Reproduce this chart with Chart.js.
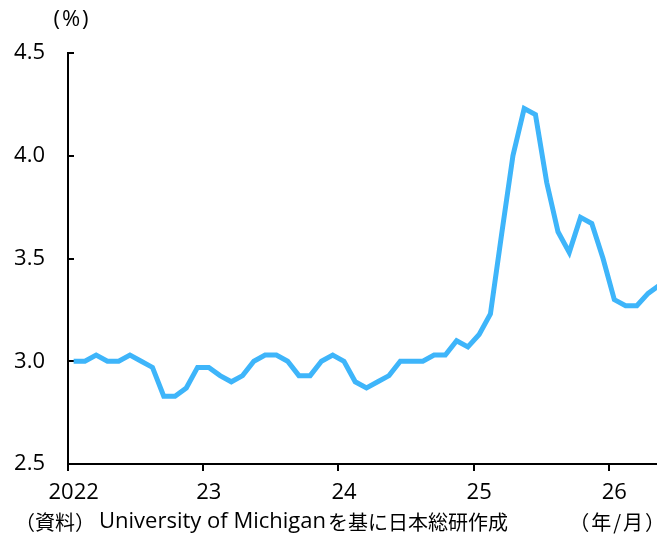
<!DOCTYPE html>
<html>
<head>
<meta charset="utf-8">
<script src="https://cdn.jsdelivr.net/npm/chart.js@4"></script>
<style>
  html, body { margin: 0; padding: 0; overflow: hidden; background: #fff; }
  #wrap { width: 657px; height: 534px; overflow: hidden; }
</style>
</head>
<body>
<div id="wrap"><canvas id="chart" width="680" height="534"></canvas></div>
<script>
// year tick labels (shown under each January)
var yearLabels = ["2022", "23", "24", "25", "26"];
var monthsLastYear = 5; // data runs to May 2026

// monthly values, %
var y2022 = [3.0, 3.0, 3.03, 3.0, 3.0, 3.03, 3.0, 2.97, 2.83, 2.83, 2.87, 2.97];
var y2023 = [2.97, 2.93, 2.9, 2.93, 3.0, 3.03, 3.03, 3.0, 2.93, 2.93, 3.0, 3.03];
var y2024 = [3.0, 2.9, 2.87, 2.9, 2.93, 3.0, 3.0, 3.0, 3.03, 3.03, 3.1, 3.07];
var y2025 = [3.13, 3.23, 3.62, 4.0, 4.23, 4.2, 3.87, 3.63, 3.53, 3.7, 3.67, 3.5];
var y2026 = [3.3, 3.27, 3.27, 3.33, 3.37];

var unitText = "(%)";
var sourceParts = ["（資料）", "University of Michigan", "を基に日本総研作成"];
var axisText = "（年/月）";

var values = y2022.concat(y2023, y2024, y2025, y2026);

// one category per month, label only on January
var labels = [];
for (var i = 0; i < yearLabels.length; i++) {
  var n = (i === yearLabels.length - 1) ? monthsLastYear : 12;
  for (var m = 1; m <= n; m++) {
    labels.push(m === 1 ? yearLabels[i] : "");
  }
}

var FONT = "'Open Sans', 'Noto Sans CJK JP', sans-serif";
var CJK = "'Noto Sans CJK JP', sans-serif";
Chart.defaults.font.family = FONT;
Chart.defaults.color = "#000";

// extra texts: unit and footer
var textPlugin = {
  id: "texts",
  afterDraw: function (chart) {
    var c = chart.ctx;
    c.save();
    c.fillStyle = "#000";
    c.textBaseline = "middle";

    c.font = "22px " + FONT;
    c.letterSpacing = "2px";
    c.textAlign = "center";
    c.fillText(unitText, 72, 20);
    c.letterSpacing = "0px";

    // footer: CJK / latin / CJK pieces
    c.textAlign = "left";
    c.font = "20px " + CJK;
    c.fillText(sourceParts[0], 15, 522);
    c.font = "22px " + FONT;
    c.fillText(sourceParts[1], 99, 522);
    var x2 = 99 + c.measureText(sourceParts[1]).width + 2;
    c.font = "20px " + CJK;
    c.fillText(sourceParts[2], x2, 522);

    c.textAlign = "right";
    c.letterSpacing = "2px";
    c.fillText(axisText, 667, 522);
    c.restore();
  }
};

var ctx = document.getElementById("chart");
var myChart = new Chart(ctx, {
  type: "line",
  data: {
    labels: labels,
    datasets: [{
      data: values,
      borderColor: "rgb(62, 181, 250)",
      borderWidth: 5,
      pointRadius: 0,
      tension: 0,
      fill: false
    }]
  },
  options: {
    responsive: false,
    animation: false,
    layout: { padding: { top: 53, right: 15, left: 0, bottom: 0 } },
    plugins: { legend: { display: false }, tooltip: { enabled: false } },
    scales: {
      x: {
        type: "category",
        offset: true,
        border: { color: "#000", width: 2 },
        grid: {
          offset: true,
          drawOnChartArea: false,
          drawTicks: true,
          tickLength: 7,
          lineWidth: 2,
          tickColor: function (c) { return c.index % 12 === 0 ? "#000" : "rgba(0,0,0,0)"; },
          color: "rgba(0,0,0,0)"
        },
        ticks: {
          autoSkip: false,
          maxRotation: 0,
          padding: 9,
          font: { size: 22 },
          callback: function (v, i) { return labels[i]; }
        },
        afterFit: function (s) { s.height = 70; }
      },
      y: {
        min: 2.5,
        max: 4.5,
        border: { color: "#000", width: 2 },
        grid: {
          drawOnChartArea: false,
          drawTicks: true,
          tickLength: -6,
          lineWidth: 2,
          tickColor: "#000"
        },
        ticks: {
          stepSize: 0.5,
          padding: 29,
          font: { size: 22 },
          callback: function (v) { return v.toFixed(1); }
        },
        afterFit: function (s) { s.width = 68; }
      }
    }
  },
  plugins: [textPlugin]
});
</script>
</body>
</html>
